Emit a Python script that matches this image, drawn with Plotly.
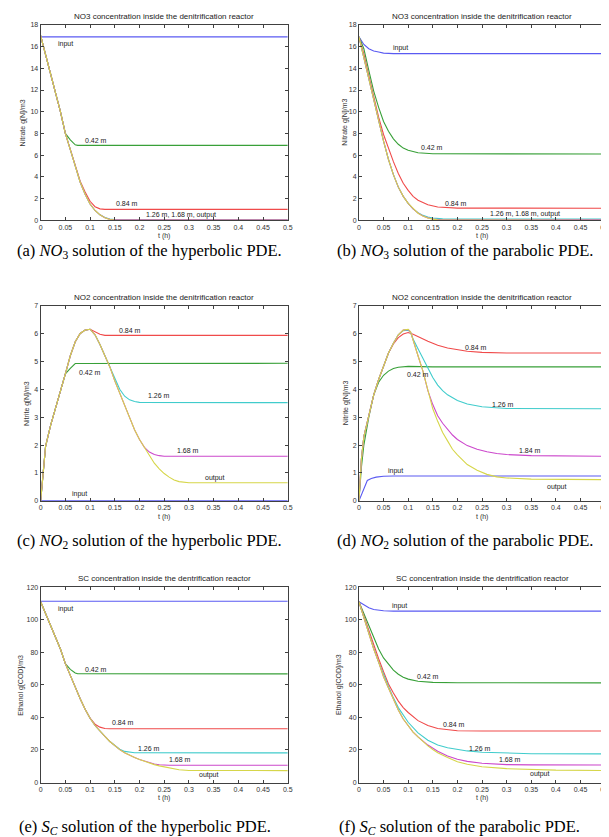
import plotly.graph_objects as go

# ---------------- DATA ----------------
# (a) NO3, hyperbolic PDE
a_input_t = [0, 0.5]
a_input_v = [16.9, 16.9]
a_042_t = [0, 0.01, 0.02, 0.03, 0.04, 0.05, 0.06, 0.07, 0.075, 0.5]
a_042_v = [17.0, 15.3, 13.6, 11.9, 10.0, 8.0, 7.4, 6.95, 6.9, 6.9]
a_084_t = [0, 0.01, 0.02, 0.03, 0.04, 0.05, 0.06, 0.07, 0.08, 0.09, 0.1, 0.11, 0.12, 0.13, 0.5]
a_084_v = [17.0, 15.3, 13.6, 11.9, 10.0, 8.0, 6.5, 5.1, 3.6, 2.6, 1.75, 1.25, 1.05, 1.0, 1.0]
a_126_t = [0, 0.01, 0.02, 0.03, 0.04, 0.05, 0.06, 0.07, 0.08, 0.09, 0.1, 0.11, 0.12, 0.13, 0.14, 0.15, 0.17, 0.5]
a_126_v = [17.0, 15.3, 13.6, 11.9, 10.0, 8.0, 6.5, 5.1, 3.5, 2.4, 1.5, 0.9, 0.5, 0.25, 0.12, 0.07, 0.05, 0.05]
a_168_t = [0, 0.01, 0.02, 0.03, 0.04, 0.05, 0.06, 0.07, 0.08, 0.09, 0.1, 0.11, 0.12, 0.13, 0.14, 0.15, 0.17, 0.5]
a_168_v = [17.0, 15.3, 13.6, 11.9, 10.0, 8.0, 6.5, 5.1, 3.5, 2.4, 1.5, 0.9, 0.5, 0.23, 0.08, 0.04, 0.03, 0.03]
a_out_t = [0, 0.01, 0.02, 0.03, 0.04, 0.05, 0.06, 0.07, 0.08, 0.09, 0.1, 0.11, 0.12, 0.13, 0.14, 0.15, 0.2, 0.5]
a_out_v = [17.0, 15.3, 13.6, 11.9, 10.0, 8.0, 6.5, 5.1, 3.5, 2.4, 1.5, 0.9, 0.5, 0.22, 0.07, 0.01, 0.0, 0.0]

# (b) NO3, parabolic PDE
b_input_t = [0, 0.01, 0.02, 0.03, 0.04, 0.05, 0.07, 0.5]
b_input_v = [16.9, 16.2, 15.8, 15.6, 15.5, 15.4, 15.35, 15.35]
b_042_t = [0, 0.01, 0.02, 0.03, 0.04, 0.05, 0.06, 0.07, 0.08, 0.09, 0.1, 0.12, 0.15, 0.5]
b_042_v = [16.9, 15.8, 13.8, 11.9, 10.4, 9.1, 8.2, 7.5, 7.0, 6.65, 6.45, 6.22, 6.12, 6.1]
b_084_t = [0, 0.01, 0.02, 0.03, 0.04, 0.05, 0.06, 0.07, 0.08, 0.09, 0.1, 0.11, 0.12, 0.13, 0.14, 0.16, 0.18, 0.2, 0.5]
b_084_v = [16.9, 15.3, 13.3, 11.3, 9.5, 7.9, 6.6, 5.4, 4.3, 3.4, 2.75, 2.2, 1.85, 1.6, 1.42, 1.22, 1.15, 1.12, 1.1]
b_126_t = [0, 0.01, 0.02, 0.03, 0.04, 0.05, 0.06, 0.07, 0.08, 0.09, 0.1, 0.11, 0.12, 0.13, 0.14, 0.15, 0.17, 0.2, 0.5]
b_126_v = [16.9, 15.0, 12.9, 11.0, 9.2, 7.3, 5.6, 4.2, 3.05, 2.2, 1.55, 1.05, 0.7, 0.45, 0.3, 0.2, 0.13, 0.1, 0.1]
b_168_t = [0, 0.01, 0.02, 0.03, 0.04, 0.05, 0.06, 0.07, 0.08, 0.09, 0.1, 0.11, 0.12, 0.13, 0.14, 0.15, 0.17, 0.2, 0.5]
b_168_v = [16.9, 15.0, 12.9, 11.0, 9.2, 7.3, 5.6, 4.2, 3.05, 2.2, 1.55, 1.05, 0.67, 0.4, 0.22, 0.12, 0.05, 0.03, 0.03]
b_out_t = [0, 0.01, 0.02, 0.03, 0.04, 0.05, 0.06, 0.07, 0.08, 0.09, 0.1, 0.11, 0.12, 0.13, 0.14, 0.15, 0.16, 0.2, 0.5]
b_out_v = [16.9, 15.0, 12.9, 11.0, 9.2, 7.3, 5.6, 4.2, 3.05, 2.2, 1.55, 1.05, 0.65, 0.38, 0.2, 0.1, 0.05, 0.01, 0.0]

# (c) NO2, hyperbolic PDE
c_input_t = [0, 0.5]
c_input_v = [0.0, 0.0]
c_042_t = [0, 0.01, 0.02, 0.03, 0.04, 0.05, 0.06, 0.07, 0.5]
c_042_v = [0.0, 1.95, 2.7, 3.3, 3.95, 4.55, 4.75, 4.92, 4.93]
c_084_t = [0, 0.01, 0.02, 0.03, 0.04, 0.05, 0.06, 0.07, 0.08, 0.09, 0.1, 0.11, 0.12, 0.13, 0.5]
c_084_v = [0.0, 1.95, 2.7, 3.3, 3.95, 4.55, 5.2, 5.7, 6.0, 6.12, 6.15, 6.05, 5.97, 5.93, 5.93]
c_126_t = [0, 0.01, 0.02, 0.03, 0.04, 0.05, 0.06, 0.07, 0.08, 0.09, 0.1, 0.11, 0.12, 0.13, 0.14, 0.15, 0.16, 0.17, 0.18, 0.19, 0.2, 0.5]
c_126_v = [0.0, 1.95, 2.7, 3.3, 3.95, 4.55, 5.2, 5.7, 6.0, 6.12, 6.15, 5.95, 5.6, 5.2, 4.8, 4.35, 4.0, 3.75, 3.62, 3.56, 3.53, 3.52]
c_168_t = [0, 0.01, 0.02, 0.03, 0.04, 0.05, 0.06, 0.07, 0.08, 0.09, 0.1, 0.11, 0.12, 0.13, 0.14, 0.15, 0.16, 0.17, 0.18, 0.19, 0.2, 0.21, 0.22, 0.23, 0.24, 0.25, 0.5]
c_168_v = [0.0, 1.95, 2.7, 3.3, 3.95, 4.55, 5.2, 5.7, 6.0, 6.12, 6.15, 5.95, 5.6, 5.2, 4.8, 4.3, 3.85, 3.4, 2.95, 2.55, 2.2, 1.92, 1.75, 1.66, 1.62, 1.6, 1.6]
c_out_t = [0, 0.01, 0.02, 0.03, 0.04, 0.05, 0.06, 0.07, 0.08, 0.09, 0.1, 0.11, 0.12, 0.13, 0.14, 0.15, 0.16, 0.17, 0.18, 0.19, 0.2, 0.21, 0.22, 0.23, 0.24, 0.25, 0.26, 0.27, 0.28, 0.29, 0.3, 0.5]
c_out_v = [0.0, 1.95, 2.7, 3.3, 3.95, 4.55, 5.2, 5.7, 6.0, 6.12, 6.15, 5.95, 5.6, 5.2, 4.8, 4.3, 3.85, 3.4, 2.95, 2.55, 2.2, 1.9, 1.6, 1.35, 1.15, 0.98, 0.85, 0.75, 0.69, 0.66, 0.65, 0.65]

# (d) NO2, parabolic PDE
d_input_t = [0, 0.017, 0.025, 0.035, 0.05, 0.07, 0.5]
d_input_v = [0.0, 0.73, 0.8, 0.85, 0.88, 0.89, 0.89]
d_042_t = [0, 0.005, 0.01, 0.02, 0.03, 0.04, 0.05, 0.06, 0.07, 0.08, 0.1, 0.15, 0.5]
d_042_v = [0.0, 1.2, 2.0, 3.0, 3.8, 4.25, 4.5, 4.65, 4.74, 4.79, 4.82, 4.8, 4.8]
d_084_t = [0, 0.005, 0.01, 0.02, 0.03, 0.04, 0.05, 0.06, 0.07, 0.08, 0.09, 0.1, 0.11, 0.12, 0.13, 0.14, 0.15, 0.16, 0.18, 0.2, 0.22, 0.25, 0.3, 0.5]
d_084_v = [0.0, 1.5, 2.3, 3.1, 3.8, 4.35, 4.85, 5.3, 5.62, 5.85, 5.98, 6.03, 5.97, 5.88, 5.8, 5.72, 5.65, 5.58, 5.48, 5.41, 5.36, 5.32, 5.3, 5.3]
d_126_t = [0, 0.005, 0.01, 0.02, 0.03, 0.04, 0.05, 0.06, 0.07, 0.08, 0.09, 0.1, 0.105, 0.11, 0.12, 0.13, 0.14, 0.15, 0.16, 0.17, 0.18, 0.2, 0.22, 0.25, 0.3, 0.5]
d_126_v = [0.0, 1.5, 2.3, 3.1, 3.8, 4.35, 4.85, 5.3, 5.65, 5.95, 6.1, 6.12, 6.03, 5.8, 5.45, 5.1, 4.75, 4.42, 4.15, 3.95, 3.8, 3.6, 3.47, 3.37, 3.31, 3.3]
d_168_t = [0, 0.005, 0.01, 0.02, 0.03, 0.04, 0.05, 0.06, 0.07, 0.08, 0.09, 0.1, 0.105, 0.11, 0.12, 0.13, 0.14, 0.15, 0.16, 0.17, 0.18, 0.19, 0.2, 0.22, 0.24, 0.26, 0.28, 0.3, 0.35, 0.5]
d_168_v = [0.0, 1.5, 2.3, 3.1, 3.8, 4.35, 4.85, 5.3, 5.65, 5.95, 6.12, 6.14, 6.05, 5.75, 5.2, 4.65, 3.95, 3.45, 3.05, 2.78, 2.55, 2.36, 2.2, 1.98, 1.85, 1.76, 1.7, 1.66, 1.62, 1.6]
d_out_t = [0, 0.005, 0.01, 0.02, 0.03, 0.04, 0.05, 0.06, 0.07, 0.08, 0.09, 0.1, 0.105, 0.11, 0.12, 0.13, 0.14, 0.15, 0.16, 0.17, 0.18, 0.19, 0.2, 0.22, 0.24, 0.26, 0.28, 0.3, 0.35, 0.4, 0.5]
d_out_v = [0.0, 1.5, 2.3, 3.1, 3.8, 4.35, 4.85, 5.3, 5.65, 5.95, 6.12, 6.15, 6.05, 5.75, 5.2, 4.65, 3.95, 3.3, 2.85, 2.45, 2.15, 1.85, 1.65, 1.3, 1.1, 0.95, 0.86, 0.82, 0.78, 0.77, 0.76]

# (e) SC, hyperbolic PDE
e_input_t = [0, 0.5]
e_input_v = [111.3, 111.3]
e_042_t = [0, 0.01, 0.02, 0.03, 0.04, 0.05, 0.06, 0.07, 0.075, 0.5]
e_042_v = [111.0, 104.0, 96.5, 89.5, 82.0, 73.0, 69.5, 67.3, 66.8, 66.7]
e_084_t = [0, 0.01, 0.02, 0.03, 0.04, 0.05, 0.06, 0.07, 0.08, 0.09, 0.1, 0.11, 0.12, 0.13, 0.14, 0.5]
e_084_v = [111.0, 104.0, 96.5, 89.5, 82.0, 73.0, 65.5, 58.5, 51.5, 45.0, 39.5, 35.8, 34.0, 33.2, 33.0, 33.0]
e_126_t = [0, 0.01, 0.02, 0.03, 0.04, 0.05, 0.06, 0.07, 0.08, 0.09, 0.1, 0.11, 0.12, 0.13, 0.14, 0.15, 0.16, 0.17, 0.18, 0.19, 0.5]
e_126_v = [111.0, 104.0, 96.5, 89.5, 82.0, 73.0, 65.5, 58.5, 51.5, 45.0, 39.5, 35.0, 31.5, 28.3, 25.2, 22.5, 20.4, 19.1, 18.5, 18.3, 18.2]
e_168_t = [0, 0.01, 0.02, 0.03, 0.04, 0.05, 0.06, 0.07, 0.08, 0.09, 0.1, 0.11, 0.12, 0.13, 0.14, 0.15, 0.16, 0.17, 0.18, 0.19, 0.2, 0.21, 0.22, 0.23, 0.24, 0.25, 0.26, 0.5]
e_168_v = [111.0, 104.0, 96.5, 89.5, 82.0, 73.0, 65.5, 58.5, 51.5, 45.0, 39.5, 35.0, 31.5, 28.3, 25.2, 22.5, 20.2, 18.3, 16.7, 15.3, 14.1, 13.2, 12.2, 11.4, 10.9, 10.7, 10.6, 10.6]
e_out_t = [0, 0.01, 0.02, 0.03, 0.04, 0.05, 0.06, 0.07, 0.08, 0.09, 0.1, 0.11, 0.12, 0.13, 0.14, 0.15, 0.16, 0.17, 0.18, 0.19, 0.2, 0.21, 0.22, 0.23, 0.24, 0.26, 0.28, 0.3, 0.5]
e_out_v = [111.0, 104.0, 96.5, 89.5, 82.0, 73.0, 65.5, 58.5, 51.5, 45.0, 39.5, 35.0, 31.5, 28.3, 25.2, 22.5, 20.2, 18.3, 16.7, 15.3, 14.1, 13.0, 12.0, 11.0, 10.2, 8.8, 7.8, 7.4, 7.3]

# (f) SC, parabolic PDE
f_input_t = [0, 0.01, 0.02, 0.03, 0.04, 0.05, 0.07, 0.5]
f_input_v = [111.0, 109.0, 107.3, 106.3, 105.8, 105.5, 105.3, 105.3]
f_042_t = [0, 0.01, 0.02, 0.03, 0.04, 0.05, 0.06, 0.07, 0.08, 0.09, 0.1, 0.12, 0.15, 0.2, 0.5]
f_042_v = [111.0, 104.0, 97.0, 89.0, 82.0, 76.5, 72.5, 69.0, 66.5, 64.7, 63.5, 62.2, 61.5, 61.3, 61.2]
f_084_t = [0, 0.01, 0.02, 0.03, 0.04, 0.05, 0.06, 0.07, 0.08, 0.09, 0.1, 0.12, 0.14, 0.16, 0.18, 0.2, 0.25, 0.5]
f_084_v = [111.0, 102.0, 93.0, 85.0, 76.0, 68.0, 60.5, 55.0, 50.0, 46.0, 43.0, 38.0, 35.0, 33.2, 32.3, 31.8, 31.6, 31.6]
f_126_t = [0, 0.01, 0.02, 0.03, 0.04, 0.05, 0.06, 0.07, 0.08, 0.1, 0.12, 0.14, 0.16, 0.18, 0.2, 0.22, 0.25, 0.3, 0.35, 0.5]
f_126_v = [111.0, 101.0, 91.5, 82.5, 74.0, 66.0, 59.0, 52.0, 46.0, 37.0, 30.5, 26.0, 23.0, 21.3, 20.2, 19.4, 18.6, 18.0, 17.7, 17.6]
f_168_t = [0, 0.01, 0.02, 0.03, 0.04, 0.05, 0.06, 0.07, 0.08, 0.09, 0.1, 0.11, 0.12, 0.14, 0.16, 0.18, 0.2, 0.22, 0.25, 0.3, 0.35, 0.5]
f_168_v = [111.0, 101.0, 91.0, 82.0, 74.0, 65.0, 58.0, 51.0, 44.5, 39.0, 35.0, 31.0, 28.0, 23.0, 19.2, 16.3, 14.3, 13.0, 11.8, 11.0, 10.8, 10.7]
f_out_t = [0, 0.01, 0.02, 0.03, 0.04, 0.05, 0.06, 0.07, 0.08, 0.09, 0.1, 0.11, 0.12, 0.13, 0.14, 0.15, 0.16, 0.18, 0.2, 0.22, 0.25, 0.3, 0.35, 0.4, 0.5]
f_out_v = [111.0, 101.0, 91.0, 82.0, 74.0, 65.0, 58.0, 51.0, 44.5, 39.0, 35.0, 31.0, 28.0, 25.0, 22.5, 20.3, 18.3, 15.3, 12.8, 11.2, 9.7, 8.5, 7.9, 7.6, 7.4]

# curve labels: (text, t, value)
a_labels = [("input", 0.051, 16.2), ("0.42 m", 0.113, 7.35), ("0.84 m", 0.175, 1.55), ("1.26 m, 1.68 m, output", 0.284, 0.5)]
b_labels = [("input", 0.085, 15.9), ("0.42 m", 0.148, 6.73), ("0.84 m", 0.198, 1.55), ("1.26 m, 1.68 m, output", 0.338, 0.55)]
c_labels = [("0.84 m", 0.18, 6.12), ("0.42 m", 0.099, 4.59), ("1.26 m", 0.239, 3.76), ("1.68 m", 0.298, 1.81), ("output", 0.353, 0.83), ("input", 0.078, 0.26)]
d_labels = [("0.84 m", 0.237, 5.48), ("0.42 m", 0.119, 4.54), ("1.26 m", 0.293, 3.46), ("1.84 m", 0.348, 1.8), ("input", 0.074, 1.07), ("output", 0.402, 0.51)]
e_labels = [("input", 0.051, 106.4), ("0.42 m", 0.111, 69.3), ("0.84 m", 0.167, 36.9), ("1.26 m", 0.219, 21.1), ("1.68 m", 0.281, 14.2), ("output", 0.34, 4.3)]
f_labels = [("input", 0.083, 108.2), ("0.42 m", 0.14, 64.9), ("0.84 m", 0.193, 35.5), ("1.26 m", 0.246, 21.1), ("1.68 m", 0.306, 14.0), ("output", 0.367, 5.1)]

x_ticks = [0, 0.05, 0.1, 0.15, 0.2, 0.25, 0.3, 0.35, 0.4, 0.45, 0.5]
x_ticktext = ["0", "0.05", "0.1", "0.15", "0.2", "0.25", "0.3", "0.35", "0.4", "0.45", "0.5"]
no3_ticks = [0, 2, 4, 6, 8, 10, 12, 14, 16, 18]
no2_ticks = [0, 1, 2, 3, 4, 5, 6, 7]
sc_ticks = [0, 20, 40, 60, 80, 100, 120]

titles = ["NO3 concentration inside the denitrification reactor",
          "NO3 concentration inside the denitrification reactor",
          "NO2 concentration inside the denitrification reactor",
          "NO2 concentration inside the denitrification reactor",
          "SC concentration inside the dentrification reactor",
          "SC concentration inside the dentrification reactor"]
ytitles = ["Nitrate g[N]/m3", "Nitrate g[N]/m3", "Nitrite g[N]/m3", "Nitrite g[N]/m3",
           "Ethanol g[COD]/m3", "Ethanol g[COD]/m3"]
captions = ["(a) <i>NO</i><sub>3</sub> solution of the hyperbolic PDE.",
            "(b) <i>NO</i><sub>3</sub> solution of the parabolic PDE.",
            "(c) <i>NO</i><sub>2</sub> solution of the hyperbolic PDE.",
            "(d) <i>NO</i><sub>2</sub> solution of the parabolic PDE.",
            "(e) <i>S</i><sub><i>C</i></sub> solution of the hyperbolic PDE.",
            "(f) <i>S</i><sub><i>C</i></sub> solution of the parabolic PDE."]

# ---------------- FIGURE ----------------
W, H = 609, 837
colors = ["#5a5af2", "#38a038", "#f04a4a", "#40cccc", "#cc48cc", "#d6d64a"]

panels = [
    ([(a_input_t, a_input_v), (a_042_t, a_042_v), (a_084_t, a_084_v), (a_126_t, a_126_v), (a_168_t, a_168_v), (a_out_t, a_out_v)], a_labels, no3_ticks, 18),
    ([(b_input_t, b_input_v), (b_042_t, b_042_v), (b_084_t, b_084_v), (b_126_t, b_126_v), (b_168_t, b_168_v), (b_out_t, b_out_v)], b_labels, no3_ticks, 18),
    ([(c_input_t, c_input_v), (c_042_t, c_042_v), (c_084_t, c_084_v), (c_126_t, c_126_v), (c_168_t, c_168_v), (c_out_t, c_out_v)], c_labels, no2_ticks, 7),
    ([(d_input_t, d_input_v), (d_042_t, d_042_v), (d_084_t, d_084_v), (d_126_t, d_126_v), (d_168_t, d_168_v), (d_out_t, d_out_v)], d_labels, no2_ticks, 7),
    ([(e_input_t, e_input_v), (e_042_t, e_042_v), (e_084_t, e_084_v), (e_126_t, e_126_v), (e_168_t, e_168_v), (e_out_t, e_out_v)], e_labels, sc_ticks, 120),
    ([(f_input_t, f_input_v), (f_042_t, f_042_v), (f_084_t, f_084_v), (f_126_t, f_126_v), (f_168_t, f_168_v), (f_out_t, f_out_v)], f_labels, sc_ticks, 120),
]

col_px = [(31, 281), (353, 602)]
row_px = [(13, 210), (296, 493), (580, 777)]
ytitle_x = [13, 338, 17, 340, 11, 333]
caption_y = [241, 533, 822]
caption_left = [[5, 329], [5, 329], [7, 331]]

fig = go.Figure()
layout = dict(width=W, height=H, margin=dict(l=0, r=0, t=0, b=0),
              paper_bgcolor="white", plot_bgcolor="white", showlegend=False)
annotations = []
tick_font = dict(family="Liberation Sans, Arial", size=7, color="#333333")
small_font = dict(family="Liberation Sans, Arial", size=7, color="#222222")

for i, (series, labels, yticks, ymax) in enumerate(panels):
    r, c = divmod(i, 2)
    x0, x1 = col_px[c]
    y0, y1 = row_px[r]
    ax = "" if i == 0 else str(i + 1)
    xa, ya = "x" + ax, "y" + ax
    for (t, v), col in zip(series, colors):
        fig.add_trace(go.Scatter(x=t, y=v, mode="lines", xaxis=xa, yaxis=ya,
                                 line=dict(color=col, width=1.1), hoverinfo="skip"))
    common = dict(showline=True, linecolor="#404040", linewidth=1, mirror="allticks",
                  ticks="inside", ticklen=3, tickcolor="#404040", showgrid=False,
                  zeroline=False, tickfont=tick_font, ticklabeloverflow="allow")
    layout["xaxis" + ax] = dict(domain=[x0 / W, x1 / W], range=[0, 0.5], anchor=ya,
                                tickvals=x_ticks, ticktext=x_ticktext, **common)
    layout["yaxis" + ax] = dict(domain=[1 - y1 / H, 1 - y0 / H], range=[0, ymax], anchor=xa,
                                tickvals=yticks, **common)
    for txt, tx, vy in labels:
        annotations.append(dict(text=txt, x=tx, y=vy, xref=xa, yref=ya, showarrow=False,
                                font=small_font, xanchor="center", yanchor="middle"))
    # title
    annotations.append(dict(text=titles[i], x=(x0 + x1) / 2 / W, y=1 - (y0 - 2) / H,
                            xref="paper", yref="paper", showarrow=False, xanchor="center",
                            yanchor="bottom", font=dict(family="Liberation Sans, Arial", size=8, color="#222222")))
    # x title
    annotations.append(dict(text="t (h)", x=(x0 + x1) / 2 / W, y=1 - (y1 + 16) / H,
                            xref="paper", yref="paper", showarrow=False, xanchor="center",
                            yanchor="middle", font=tick_font))
    # y title
    annotations.append(dict(text=ytitles[i], x=ytitle_x[i] / W, y=1 - (y0 + y1) / 2 / H,
                            xref="paper", yref="paper", showarrow=False, xanchor="center",
                            yanchor="middle", textangle=-90, font=tick_font))
    # caption
    annotations.append(dict(text=captions[i], x=caption_left[r][c] / W, y=1 - caption_y[r] / H,
                            xref="paper", yref="paper", showarrow=False, xanchor="left",
                            yanchor="middle", font=dict(family="Liberation Serif, DejaVu Serif", size=16.5, color="black")))

layout["annotations"] = annotations
fig.update_layout(**layout)
fig.write_html("out.html")
